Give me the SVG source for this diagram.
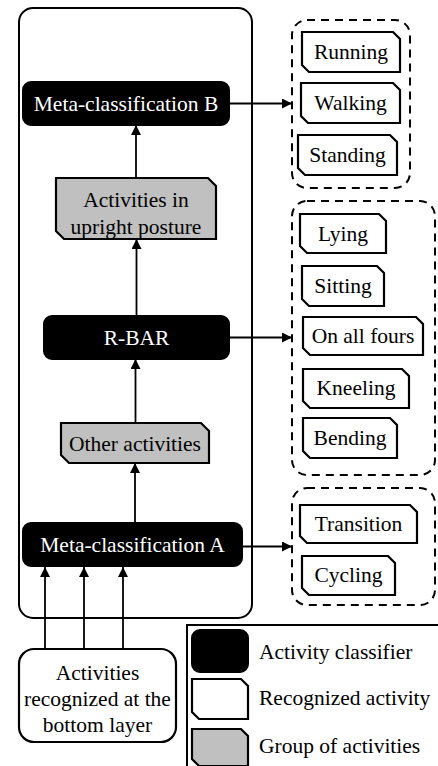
<svg xmlns="http://www.w3.org/2000/svg" width="438" height="766" viewBox="0 0 438 766" font-family="'Liberation Serif', 'Times New Roman', 'DejaVu Serif', serif">
<defs>
<marker id="ah" viewBox="0 0 10 10" refX="10" refY="5" markerWidth="10" markerHeight="10" markerUnits="userSpaceOnUse" orient="auto">
<path d="M0,0 L10,5 L0,10 Z" fill="#000"/>
</marker>
</defs>
<style>
text{font-family:'Liberation Serif','Times New Roman','DejaVu Serif',serif;font-size:21.5px;fill:#000;text-anchor:middle;dominant-baseline:central}
.wt{fill:#fff}
.cls{fill:#000;stroke:#000;stroke-width:2}
.act{fill:#fff;stroke:#000;stroke-width:2.2}
.grp{fill:#c0c0c0;stroke:#000;stroke-width:2.2}
.dash{fill:none;stroke:#000;stroke-width:2;stroke-dasharray:8 6}
.frame{fill:none;stroke:#000;stroke-width:2}
.conn line{stroke:#000;stroke-width:1.8;marker-end:url(#ah)}
.lt{text-anchor:start}
</style>
<rect id="container" class="frame" x="19" y="8" width="233" height="610" rx="14"/>
<g id="metaB"><rect class="cls" x="23" y="82" width="206" height="43" rx="8"/><text class="wt" x="126" y="104">Meta-classification B</text></g>
<g id="upright"><path class="grp" d="M56,178 H208 L216,186 V239 H64 L56,231 Z"/><text x="136" y="200">Activities in</text><text x="136" y="227">upright posture</text></g>
<g id="rbar"><rect class="cls" x="44" y="316" width="185" height="43" rx="8"/><text class="wt" x="136.5" y="338">R-BAR</text></g>
<g id="other"><path class="grp" d="M61,423 H201 L209,431 V463 H69 L61,455 Z"/><text x="135" y="443.5">Other activities</text></g>
<g id="metaA"><rect class="cls" x="23" y="523" width="219" height="43" rx="8"/><text class="wt" x="132.5" y="545">Meta-classification A</text></g>
<g id="bottom"><rect class="act" x="19" y="649" width="157" height="93" rx="15"/><text x="97.5" y="673">Activities</text><text x="97.5" y="699">recognized at the</text><text x="97.5" y="725">bottom layer</text></g>
<g id="group1"><rect class="dash" x="292" y="20" width="118" height="168" rx="15"/>
<g id="running"><path class="act" d="M302,32 H393 L400,39 V72 H309 L302,65 Z"/><text x="351" y="52">Running</text></g>
<g id="walking"><path class="act" d="M301,83 H393 L400,90 V123 H308 L301,116 Z"/><text x="350.5" y="103">Walking</text></g>
<g id="standing"><path class="act" d="M298,135 H390 L397,142 V175 H305 L298,168 Z"/><text x="347.5" y="155">Standing</text></g>
</g>
<g id="group2"><rect class="dash" x="292" y="201" width="143" height="274" rx="15"/>
<g id="lying"><path class="act" d="M300,214 H379 L386,221 V253 H307 L300,246 Z"/><text x="343" y="234">Lying</text></g>
<g id="sitting"><path class="act" d="M302,266 H377 L384,273 V306 H309 L302,299 Z"/><text x="343" y="286">Sitting</text></g>
<g id="allfours"><path class="act" d="M303,317 H416 L423,324 V355 H310 L303,348 Z"/><text x="363" y="336">On all fours</text></g>
<g id="kneeling"><path class="act" d="M303,369 H402 L409,376 V408 H310 L303,401 Z"/><text x="356" y="388">Kneeling</text></g>
<g id="bending"><path class="act" d="M303,418 H390 L397,425 V458 H310 L303,451 Z"/><text x="350" y="438">Bending</text></g>
</g>
<g id="group3"><rect class="dash" x="292" y="488" width="143" height="117" rx="15"/>
<g id="transition"><path class="act" d="M300,505 H410 L417,512 V543 H307 L300,536 Z"/><text x="358.5" y="524">Transition</text></g>
<g id="cycling"><path class="act" d="M302,556 H388 L395,563 V595 H309 L302,588 Z"/><text x="348.5" y="575">Cycling</text></g>
</g>
<g id="legend">
<path class="frame" d="M187,770 V625 H440"/>
<rect class="cls" x="192" y="630" width="56" height="42" rx="8"/>
<path class="act" d="M192,679 H241 L248,686 V719 H199 L192,712 Z"/>
<path class="grp" d="M192,729 H241 L248,736 V766 H199 L192,759 Z"/>
<text class="lt" x="259" y="652">Activity classifier</text>
<text class="lt" x="259" y="698">Recognized activity</text>
<text class="lt" x="259" y="746">Group of activities</text>
</g>
<g id="connectors" class="conn">
<line x1="136" y1="178" x2="136" y2="125"/>
<line x1="136.5" y1="316" x2="136.5" y2="239"/>
<line x1="135.5" y1="423" x2="135.5" y2="359"/>
<line x1="135" y1="523" x2="135" y2="463"/>
<line x1="45" y1="649" x2="45" y2="567"/>
<line x1="84" y1="649" x2="84" y2="567"/>
<line x1="123" y1="649" x2="123" y2="567"/>
<line x1="229" y1="103.5" x2="292" y2="103.5"/>
<line x1="229" y1="337.5" x2="292" y2="337.5"/>
<line x1="242" y1="546.5" x2="292" y2="546.5"/>
</g>
</svg>
